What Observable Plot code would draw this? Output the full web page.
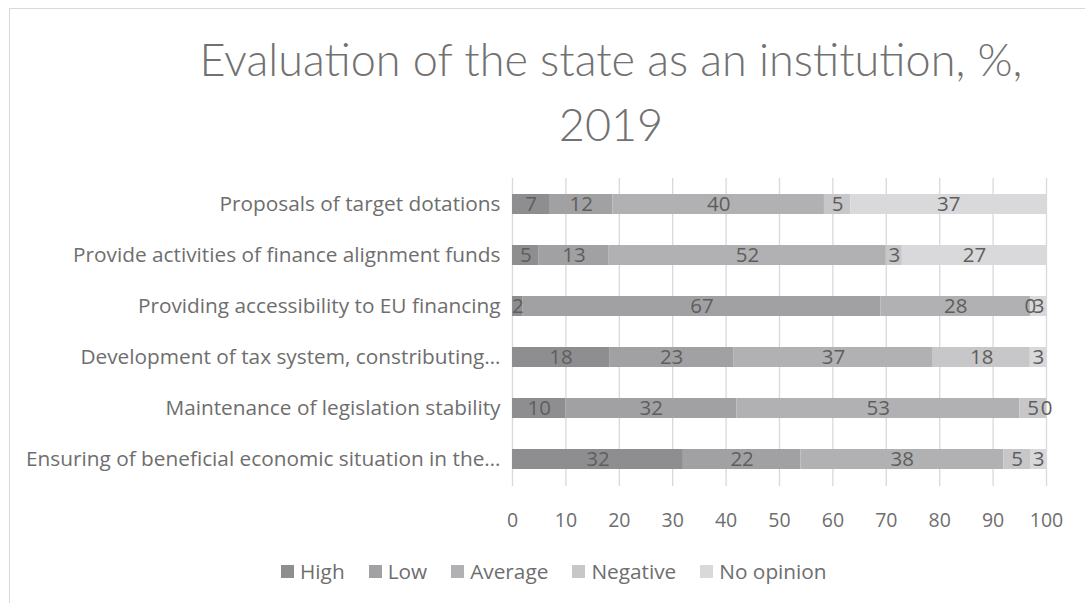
<!DOCTYPE html>
<html><head><meta charset="utf-8">
<script src="https://cdn.jsdelivr.net/npm/d3@7"></script>
<script src="https://cdn.jsdelivr.net/npm/@observablehq/plot@0.6"></script>
<style>
body{margin:0;background:#fff;font-family:"Open Sans", sans-serif;}
#wrap{position:relative;width:1085px;height:603px;overflow:hidden;background:#fff;}
#frame{position:absolute;left:9px;top:8px;width:1200px;height:700px;border:1px solid #d9d9d9;}
#title{position:absolute;left:0;top:27px;width:1222px;text-align:center;font-family:Lato, sans-serif;font-size:45px;font-weight:300;line-height:65px;color:#717171;}
#chart{position:absolute;left:0;top:0;}
#legend{position:absolute;left:281px;top:557px;display:flex;align-items:center;font-size:20.8px;color:#6e6e6e;white-space:nowrap;}
#legend .item{display:flex;align-items:center;margin-right:24px;}
#legend .sw{width:13px;height:13px;margin-right:6px;}
</style></head>
<body>
<div id="wrap">
  <div id="frame"></div>
  <div id="chart"></div>
  <div id="title">Evaluation of the state as an institution, %,<br>2019</div>
  <div id="legend"></div>
</div>
<script>
const categories = [
  "Proposals of target dotations",
  "Provide activities of finance alignment funds",
  "Providing accessibility to EU financing",
  "Development of tax system, constributing…",
  "Maintenance of legislation stability",
  "Ensuring of beneficial economic situation in the…"
];
const seriesNames = ["High", "Low", "Average", "Negative", "No opinion"];
const seriesColors = ["#8e8e91", "#a1a1a4", "#b1b1b3", "#c7c7c9", "#d9d9db"];
const high      = [7, 5, 2, 18, 10, 32];
const low       = [12, 13, 67, 23, 32, 22];
const average   = [40, 52, 28, 37, 53, 38];
const negative  = [5, 3, 0, 18, 5, 5];
const noOpinion = [37, 27, 3, 3, 0, 3];
const xTicks = [0, 10, 20, 30, 40, 50, 60, 70, 80, 90, 100];

const seriesValues = [high, low, average, negative, noOpinion];
const rows = [];
categories.forEach((c, i) => {
  seriesNames.forEach((s, j) => {
    rows.push({category: c, series: s, value: seriesValues[j][i]});
  });
});

const chart = Plot.plot({
  width: 1085,
  height: 545,
  marginLeft: 512,
  marginRight: 39,
  marginTop: 178,
  marginBottom: 59,
  style: {fontFamily: "'Open Sans', sans-serif", fontSize: "20.5px", color: "#6e6e6e", background: "transparent"},
  x: {domain: [0, 1], axis: null},
  y: {domain: categories, paddingInner: 0.6, paddingOuter: 0.3, axis: null},
  color: {domain: seriesNames, range: seriesColors},
  marks: [
    Plot.gridX(xTicks.map(d => d / 100), {stroke: "#d9d9d9", strokeOpacity: 1, strokeWidth: 1.3}),
    Plot.axisX(xTicks.map(d => d / 100), {tickSize: 0, tickPadding: 27, tickFormat: d => Math.round(d * 100), fontSize: 19.5, fill: "#6e6e6e", label: null}),
    Plot.axisY({tickSize: 0, tickPadding: 12, fontSize: 20.8, fill: "#6e6e6e", label: null}),
    Plot.barX(rows, Plot.stackX({offset: "normalize", order: seriesNames, x: "value", y: "category", fill: "series"})),
    Plot.text(rows, Plot.stackX({offset: "normalize", order: seriesNames, x: "value", y: "category", z: "series", text: d => String(d.value), fill: "#5e5e5e", fontSize: 20.5}))
  ]
});
document.getElementById("chart").appendChild(chart);

const legend = document.getElementById("legend");
seriesNames.forEach((s, i) => {
  const item = document.createElement("div");
  item.className = "item";
  const sw = document.createElement("div");
  sw.className = "sw";
  sw.style.background = seriesColors[i];
  const t = document.createElement("span");
  t.textContent = s;
  item.appendChild(sw);
  item.appendChild(t);
  legend.appendChild(item);
});
</script>
</body></html>
